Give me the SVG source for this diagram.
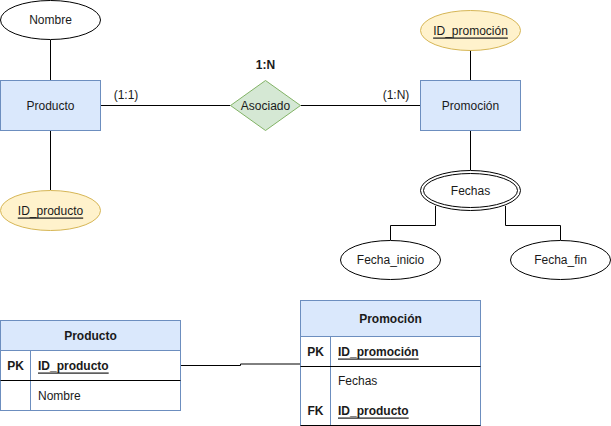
<svg xmlns="http://www.w3.org/2000/svg" width="611" height="426" viewBox="0 0 611 426">
<style>
text{font-family:"Liberation Sans",Arial,sans-serif;font-size:12px;fill:#1a1a1a;text-anchor:middle;dominant-baseline:central}
.b{font-weight:bold}
.u{text-decoration:underline}
.l{text-anchor:start}
.ent{fill:#dae8fc;stroke:#6c8ebf;stroke-width:1}
.key{fill:#fff2cc;stroke:#d6b656;stroke-width:1}
.att{fill:#ffffff;stroke:#000000;stroke-width:1}
.rel{fill:#d5e8d4;stroke:#82b366;stroke-width:1}
.ln{fill:none;stroke:#000000;stroke-width:1}
.bl{fill:none;stroke:#6c8ebf;stroke-width:1}
</style>
<rect width="611" height="426" fill="#ffffff"/>
<g id="connectors">
<path class="ln" d="M50.5 40V80"/>
<path class="ln" d="M50.5 130V190"/>
<path class="ln" d="M100 105.5H230.5"/>
<path class="ln" d="M300.5 105.5H420"/>
<path class="ln" d="M470.5 50V80"/>
<path class="ln" d="M470.5 130V170"/>
<path class="ln" d="M435.5 206V225.5H390.5V240"/>
<path class="ln" d="M505.5 206V225.5H560.5V240"/>
<path class="ln" d="M180 365.5H240.5V364H300"/>
</g>
<g id="label-1N"><text x="265.5" y="65" class="b">1:N</text></g>
<g id="label-11"><text x="126" y="95">(1:1)</text></g>
<g id="label-1N-right"><text x="396" y="95">(1:N)</text></g>
<g id="nombre"><ellipse class="att" cx="50.5" cy="20" rx="50" ry="19.5"/><text x="50.5" y="20">Nombre</text></g>
<g id="producto"><rect class="ent" x="0.5" y="80.5" width="100" height="50"/><text x="50.5" y="105.5">Producto</text></g>
<g id="id-producto"><ellipse class="key" cx="50.5" cy="210.5" rx="50" ry="20"/><text x="50.5" y="210.5" class="u">ID_producto</text></g>
<g id="asociado"><path class="rel" d="M265.5 80.5L300.5 105.5L265.5 130.5L230.5 105.5Z"/><text x="265.5" y="105.5">Asociado</text></g>
<g id="id-promocion"><ellipse class="key" cx="470.5" cy="30.5" rx="50" ry="20"/><text x="470.5" y="30.5" class="u">ID_promoción</text></g>
<g id="promocion"><rect class="ent" x="420.5" y="80.5" width="100" height="50"/><text x="470.5" y="105.5">Promoción</text></g>
<g id="fechas"><ellipse class="att" cx="470.5" cy="190.5" rx="50" ry="20"/><ellipse class="att" cx="470.5" cy="190.5" rx="47" ry="17"/><text x="470.5" y="190.5">Fechas</text></g>
<g id="fecha-inicio"><ellipse class="att" cx="390.5" cy="260" rx="50" ry="19.5"/><text x="390.5" y="260">Fecha_inicio</text></g>
<g id="fecha-fin"><ellipse class="att" cx="560.5" cy="260" rx="50" ry="19.5"/><text x="560.5" y="260">Fecha_fin</text></g>
<g id="tabla-producto">
<rect class="ent" x="0.5" y="320.5" width="180" height="30"/>
<rect x="0.5" y="350.5" width="180" height="60" fill="#ffffff" stroke="#6c8ebf"/>
<path class="bl" d="M30.5 350.5V410.5"/>
<path class="ln" d="M0.5 380.5H180.5"/>
<text x="90.5" y="335.5" class="b">Producto</text>
<text x="15.5" y="365.5" class="b">PK</text>
<text x="38" y="365.5" class="l b u">ID_producto</text>
<text x="38" y="395.5" class="l">Nombre</text>
</g>
<g id="tabla-promocion">
<rect class="ent" x="300.5" y="300.5" width="180" height="36"/>
<rect x="300.5" y="336.5" width="180" height="89" fill="#ffffff" stroke="#6c8ebf"/>
<path class="bl" d="M330.5 336.5V425.5"/>
<path class="ln" d="M300.5 366.5H480.5"/>
<path class="ln" d="M300.5 425.5H480.5"/>
<text x="390.5" y="318.5" class="b">Promoción</text>
<text x="315.5" y="351.5" class="b">PK</text>
<text x="338" y="351.5" class="l b u">ID_promoción</text>
<text x="338" y="381" class="l">Fechas</text>
<text x="315.5" y="410.5" class="b">FK</text>
<text x="338" y="410.5" class="l b u">ID_producto</text>
</g>
</svg>
